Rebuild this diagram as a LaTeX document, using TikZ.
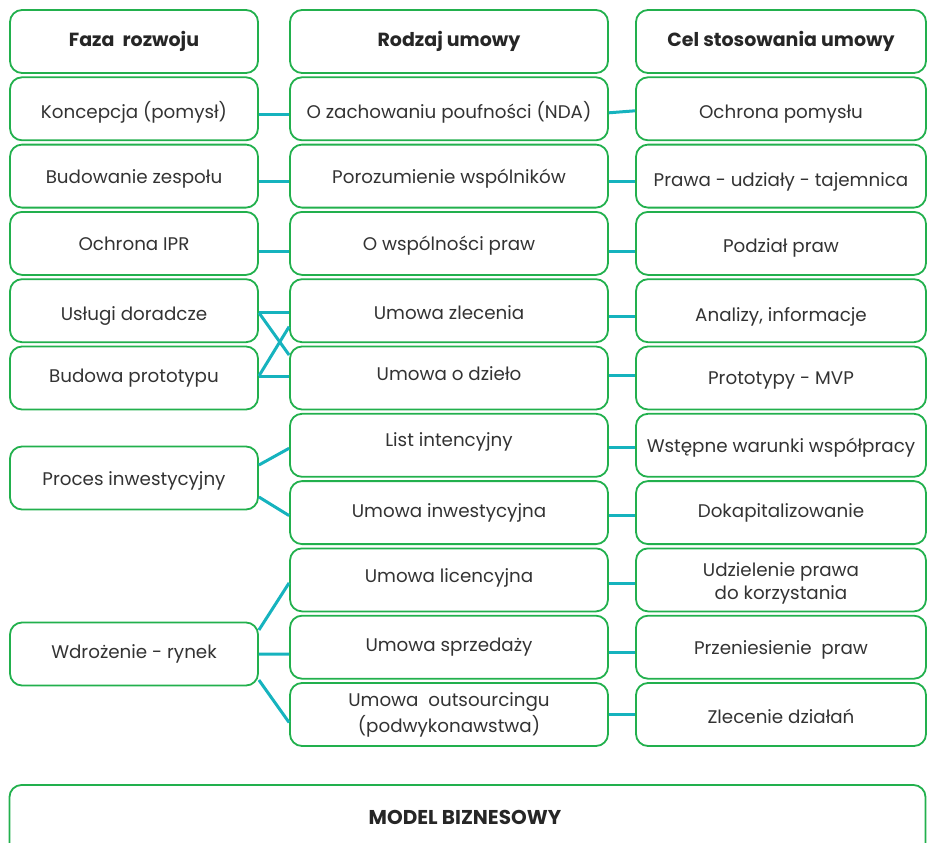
\documentclass[tikz,border=0pt]{standalone}
\usepackage{fontspec}
\setmainfont{Poppins}
\definecolor{boxgreen}{HTML}{22B04D}
\definecolor{linkteal}{HTML}{16B3BE}
\definecolor{txt}{HTML}{333333}
\newcommand{\dn}[2]{\raisebox{-#1pt}[\height][\depth]{#2}}
\newcommand{\upby}[2]{\raisebox{#1pt}[\height][\depth]{#2}}
\begin{document}
\begin{tikzpicture}[x=1pt,y=-1pt,
  box/.style={draw=boxgreen, line width=1.8pt, rounded corners=12pt, fill=white,
    text=txt, align=center, font=\fontsize{18.3}{23}\selectfont, inner sep=0pt, minimum height=63pt},
  cola/.style={box, minimum width=248pt},
  colb/.style={box, minimum width=318pt},
  colc/.style={box, minimum width=290pt},
  head/.style={font=\fontsize{19}{23}\selectfont\bfseries, text=black!85},
  link/.style={draw=linkteal, line width=3pt}]
\useasboundingbox (0,0) rectangle (927,843);
% column 1
\node[cola, head] (h1) at (134,41.5) {Faza\ \ rozwoju};
\node[cola] (a1) at (134,108.8) {\dn{4}{Koncepcja (pomysł)}};
\node[cola] (a2) at (134,176.1) {\dn{3}{Budowanie zespołu}};
\node[cola] (a3) at (134,243.4) {Ochrona IPR};
\node[cola] (a4) at (134,310.7) {\dn{5}{Usługi doradcze}};
\node[cola] (a5) at (134,378) {Budowa prototypu};
\node[cola] (a6) at (134,478) {\dn{3}{Proces inwestycyjny}};
\node[cola] (a7) at (134,654) {Wdrożenie - rynek};
% column 2
\node[colb, head] (h2) at (449,41.5) {Rodzaj umowy};
\node[colb] (b1) at (449,108.8) {\dn{4}{O zachowaniu poufności (NDA)}};
\node[colb] (b2) at (449,176.1) {\dn{3}{Porozumienie wspólników}};
\node[colb] (b3) at (449,243.4) {\dn{2}{O wspólności praw}};
\node[colb] (b4) at (449,310.7) {\dn{2}{Umowa zlecenia}};
\node[colb] (b5) at (449,378) {\upby{4}{Umowa o dzieło}};
\node[colb] (b6) at (449,445.3) {\upby{3}{List intencyjny}};
\node[colb] (b7) at (449,512.6) {Umowa inwestycyjna};
\node[colb] (b8) at (449,579.9) {\upby{2}{Umowa licencyjna}};
\node[colb] (b9) at (449,647.2) {Umowa sprzedaży};
\node[colb, font=\fontsize{18.3}{26}\selectfont] (b10) at (449,714.5) {Umowa\ \ outsourcingu\\(podwykonawstwa)};
% column 3
\node[colc, head] (h3) at (781,41.5) {Cel stosowania umowy};
\node[colc] (c1) at (781,108.8) {\dn{5}{Ochrona pomysłu}};
\node[colc] (c2) at (781,176.1) {\dn{6}{Prawa - udziały - tajemnica}};
\node[colc] (c3) at (781,243.4) {\dn{5}{Podział praw}};
\node[colc] (c4) at (781,310.7) {\dn{6}{Analizy, informacje}};
\node[colc] (c5) at (781,378) {\dn{2}{Prototypy - MVP}};
\node[colc] (c6) at (781,445.3) {\dn{2}{Wstępne warunki współpracy}};
\node[colc] (c7) at (781,512.6) {Dokapitalizowanie};
\node[colc] (c8) at (781,579.9) {\dn{3}{\begin{tabular}{@{}c@{}}Udzielenie prawa\\do korzystania\end{tabular}}};
\node[colc] (c9) at (781,647.2) {\dn{3}{Przeniesienie\ \ praw}};
\node[colc] (c10) at (781,714.5) {\dn{2}{Zlecenie działań}};
% bottom
\node[draw=boxgreen, line width=1.8pt, rounded corners=12pt, minimum width=916pt, minimum height=100pt,
  inner sep=0pt] (m) at (467.5,835) {};
\node[text=black!85, font=\fontsize{20}{24}\selectfont\bfseries] (mt) at (465,817) {MODEL BIZNESOWY};
% links column 1 -> column 2
\draw[link] ([yshift=-6pt]a1.east) -- ([yshift=-6pt]b1.west);
\draw[link] ([yshift=-5pt]a2.east) -- ([yshift=-5pt]b2.west);
\draw[link] ([yshift=-8pt]a3.east) -- ([yshift=-8pt]b3.west);
\draw[link] ([yshift=-2pt]a4.east) -- ([yshift=-2pt]b4.west);
\draw[link] ([yshift=-2pt]a4.east) -- ([yshift=23pt]b5.west);
\draw[link] ([yshift=2pt]a5.east) -- ([yshift=-16pt]b4.west);
\draw[link] ([yshift=2pt]a5.east) -- ([yshift=2pt]b5.west);
\draw[link] ([yshift=13pt]a6.east) -- ([yshift=-3pt]b6.west);
\draw[link] ([yshift=-19pt]a6.east) -- ([yshift=-3pt]b7.west);
\draw[link] ([yshift=24pt]a7.east) -- ([yshift=-3pt]b8.west);
\draw[link] (a7.east) -- ([yshift=-7pt]b9.west);
\draw[link] ([yshift=-26pt]a7.east) -- ([yshift=-8pt]b10.west);
% links column 2 -> column 3
\draw[link] ([yshift=-4pt]b1.east) -- ([yshift=-2pt]c1.west);
\draw[link] ([yshift=-5pt]b2.east) -- ([yshift=-5pt]c2.west);
\draw[link] ([yshift=-8pt]b3.east) -- ([yshift=-8pt]c3.west);
\draw[link] ([yshift=-6pt]b4.east) -- ([yshift=-6pt]c4.west);
\draw[link] ([yshift=3pt]b5.east) -- ([yshift=3pt]c5.west);
\draw[link] ([yshift=-2pt]b6.east) -- ([yshift=-2pt]c6.west);
\draw[link] ([yshift=-3pt]b7.east) -- ([yshift=-3pt]c7.west);
\draw[link] ([yshift=-4pt]b8.east) -- ([yshift=-4pt]c8.west);
\draw[link] ([yshift=-5pt]b9.east) -- ([yshift=-5pt]c9.west);
\draw[link] (b10.east) -- (c10.west);
\end{tikzpicture}
\end{document}
